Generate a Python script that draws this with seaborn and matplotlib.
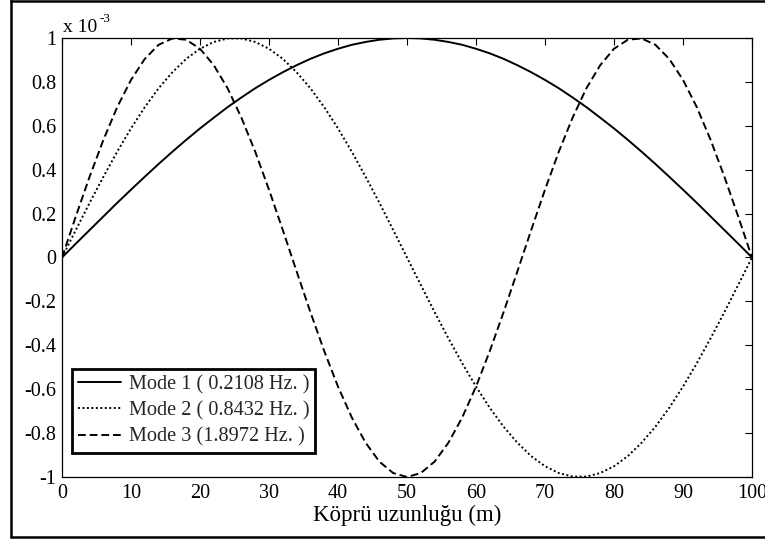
import numpy as np
import pandas as pd
import matplotlib
matplotlib.use("Agg")
import matplotlib.pyplot as plt
import seaborn as sns
from matplotlib.lines import Line2D

# ---- data (values in units of 1e-3) ----
x_pos = list(range(0, 101, 2))
mode1 = [0, .063, .125, .187, .249, .309, .368, .426, .482, .536, .588, .637, .685,
         .729, .771, .809, .844, .876, .905, .930, .951, .969, .982, .992, .998, 1.0,
         .998, .992, .982, .969, .951, .930, .905, .876, .844, .809, .771, .729, .685,
         .637, .588, .536, .482, .426, .368, .309, .249, .187, .125, .063, 0]
mode2 = [0, .125, .249, .368, .482, .588, .685, .771, .844, .905, .951, .982, .998,
         .998, .982, .951, .905, .844, .771, .685, .588, .482, .368, .249, .125, 0,
         -.125, -.249, -.368, -.482, -.588, -.685, -.771, -.844, -.905, -.951, -.982, -.998,
         -.998, -.982, -.951, -.905, -.844, -.771, -.685, -.588, -.482, -.368, -.249, -.125, 0]
mode3 = [0, .187, .368, .536, .685, .809, .905, .969, .998, .992, .951, .876, .771,
         .637, .482, .309, .125, -.063, -.249, -.426, -.588, -.729, -.844, -.930, -.982, -1.0,
         -.982, -.930, -.844, -.729, -.588, -.426, -.249, -.063, .125, .309, .482, .637,
         .771, .876, .951, .992, .998, .969, .905, .809, .685, .536, .368, .187, 0]
labels = ["Mode 1 ( 0.2108 Hz. )", "Mode 2 ( 0.8432 Hz. )", "Mode 3 (1.8972 Hz. )"]
x_ticks = list(range(0, 101, 10))
y_ticks = [-1, -0.8, -0.6, -0.4, -0.2, 0, 0.2, 0.4, 0.6, 0.8, 1]
y_ticklabels = ["-1", "-0.8", "-0.6", "-0.4", "-0.2", "0", "0.2", "0.4", "0.6", "0.8", "1"]
x_label = "Köprü uzunluğu (m)"

sns.set_theme(style="white")
plt.rcParams["font.family"] = ["Liberation Serif", "DejaVu Serif"]

fig = plt.figure(figsize=(7.65, 5.43), dpi=100)
fig.patch.set_facecolor("white")
ax = fig.add_axes([62/765, 1-477/543, (752-62)/765, (477-38)/543])

styles = ["-", (0, (1, 1.3)), (0, (4, 2))]
for vals, lab, ls in zip([mode1, mode2, mode3], labels, styles):
    sns.lineplot(x=x_pos, y=vals, ax=ax, color="black", linestyle=ls,
                 linewidth=1.4, label=lab)

ax.set_xlim(0, 100)
ax.set_ylim(-1, 1)
ax.set_xticks(x_ticks)
ax.set_xticklabels([str(v) for v in x_ticks])
ax.set_yticks(y_ticks)
ax.set_yticklabels(y_ticklabels)
ax.tick_params(direction="in", length=5, width=0.8, colors="black",
               top=True, right=True, labelsize=14.5, pad=4)
ax.tick_params(axis="x", pad=5)
for s in ax.spines.values():
    s.set_color("black")
    s.set_linewidth(0.9)
ax.set_xlabel(x_label, fontsize=16.5, color="black", labelpad=1)
ax.set_ylabel("")

# exponent label (MATLAB style)
ax.text(1/690, 1 + 6/439, "x 10", transform=ax.transAxes, fontsize=14,
        ha="left", va="baseline", color="black")
ax.text(37/690, 1 + 16/439, "-3", transform=ax.transAxes, fontsize=9.5,
        ha="left", va="baseline", color="black")

leg = ax.legend(loc="lower left", bbox_to_anchor=(0.0145, 0.055), borderaxespad=0,
                fontsize=14.6, frameon=True, fancybox=False, framealpha=1,
                handlelength=2.1, handletextpad=0.4, labelspacing=0.35,
                borderpad=0.3)
leg.get_frame().set_edgecolor("black")
leg.get_frame().set_linewidth(2)

# outer border
W, H = 765, 543
for xs, ys in [([10.5/W, 10.5/W], [6/H, 1.0]),
               ([10.5/W, 1.0], [1 - 1/H, 1 - 1/H]),
               ([10.5/W, 1.0], [6/H, 6/H])]:
    fig.add_artist(Line2D(xs, ys, transform=fig.transFigure, color="black", linewidth=1.8))

fig.savefig("out.png", dpi=100)
